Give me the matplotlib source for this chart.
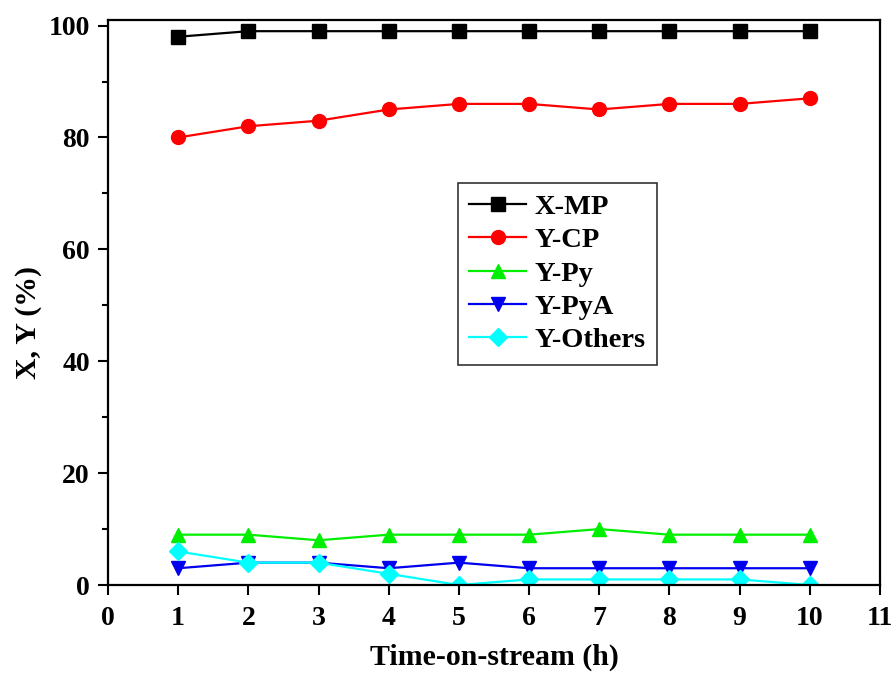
import matplotlib.pyplot as plt
import numpy as np

plt.rcParams['font.family'] = ['Liberation Serif', 'DejaVu Serif']
plt.rcParams['font.weight'] = 'bold'

# data
time_h = [1, 2, 3, 4, 5, 6, 7, 8, 9, 10]
x_mp = [98, 99, 99, 99, 99, 99, 99, 99, 99, 99]
y_cp = [80, 82, 83, 85, 86, 86, 85, 86, 86, 87]
y_py = [9, 9, 8, 9, 9, 9, 10, 9, 9, 9]
y_pya = [3, 4, 4, 3, 4, 3, 3, 3, 3, 3]
y_others = [6, 4, 4, 2, 0, 1, 1, 1, 1, 0]

series = [
    ("X-MP", x_mp, "black", "s"),
    ("Y-CP", y_cp, "red", "o"),
    ("Y-Py", y_py, "#00ee00", "^"),
    ("Y-PyA", y_pya, "#0000ee", "v"),
    ("Y-Others", y_others, "cyan", "D"),
]

fig = plt.figure(figsize=(8.91, 6.75), dpi=100)
ax = fig.add_axes([0.1212, 0.1333, 0.8665, 0.8371])

for name, vals, col, mk in series:
    ms = 9 if mk == "D" else 10
    ax.plot(time_h, vals, color=col, marker=mk, markersize=ms, linewidth=1.6, label=name)

ax.set_xlim(0, 11)
ax.set_ylim(0, 101)
ax.set_xticks(np.arange(0, 12, 1))
ax.set_yticks(np.arange(0, 101, 20))
ax.set_yticks(np.arange(10, 100, 20), minor=True)
ax.tick_params(axis='both', which='major', direction='out', length=7, width=1.5,
               labelsize=20)
ax.tick_params(axis='x', which='major', pad=8)
ax.tick_params(axis='y', which='major', pad=6)
ax.tick_params(axis='y', which='minor', direction='out', length=4, width=1.5)
for sp in ax.spines.values():
    sp.set_linewidth(1.6)

ax.set_xlabel("Time-on-stream (h)", fontsize=21.5, fontweight='bold')
ax.set_ylabel("X, Y (%)", fontsize=21.5, fontweight='bold')
ax.xaxis.set_label_coords(0.5, -0.103)
ax.yaxis.set_label_coords(-0.086, 0.465)

leg = ax.legend(loc='upper left', bbox_to_anchor=(0.453, 0.712), borderaxespad=0,
                fontsize=20.5, frameon=True, fancybox=False, edgecolor='black',
                handlelength=2.0, handletextpad=0.3, borderpad=0.4,
                labelspacing=0.26)
leg.get_frame().set_linewidth(1.2)

plt.savefig("out.png", dpi=100)
